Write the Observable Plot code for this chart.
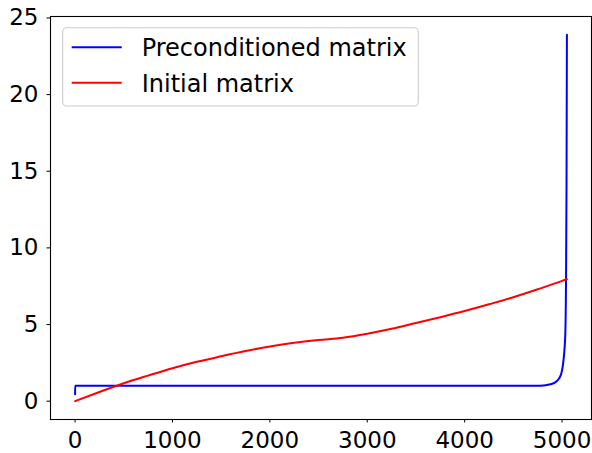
<!DOCTYPE html>
<html><head><meta charset="utf-8">
<script src="https://cdn.jsdelivr.net/npm/d3@7"></script>
<script src="https://cdn.jsdelivr.net/npm/@observablehq/plot@0.6"></script>
<style>
body{margin:0;background:#fff}
#wrap{position:relative;width:592px;height:453px}
#wrap svg{display:block}
#legend{position:absolute;left:0;top:0}
</style>
</head><body><div id="wrap"></div>
<script>
const seriesNames = ["Preconditioned matrix", "Initial matrix"];
const seriesColors = ["#0000ff", "#ff0000"];

const precondX = [0, 1, 4600, 4780, 4880, 4948, 4990, 5010, 5024, 5034, 5041, 5046, 5050];
const precondY = [0.45, 1.0, 1.0, 1.01, 1.1, 1.32, 1.75, 2.4, 3.3, 4.5, 8, 14, 23.9];

const initialX = [0, 250, 500, 750, 1000, 1250, 1500, 1750, 2000, 2250, 2500, 2750, 3000, 3250, 3500, 3750, 4000, 4250, 4500, 4750, 5000, 5050];
const initialY = [0, 0.6, 1.17, 1.67, 2.15, 2.57, 2.93, 3.27, 3.57, 3.81, 3.99, 4.14, 4.40, 4.72, 5.10, 5.48, 5.88, 6.32, 6.78, 7.30, 7.85, 7.97];

const xTicks = [0, 1000, 2000, 3000, 4000, 5000];
const yTicks = [0, 5, 10, 15, 20, 25];

const rows = [
  ...precondX.map((x, i) => ({series: seriesNames[0], x, y: precondY[i]})),
  ...initialX.map((x, i) => ({series: seriesNames[1], x, y: initialY[i]}))
];

const xMax = d3.max(rows, d => d.x), yMax = d3.max(rows, d => d.y);
const xPad = 0.05 * xMax, yPad = 0.05 * yMax;

const chart = Plot.plot({
  width: 592,
  height: 453,
  marginLeft: 50,
  marginRight: 1,
  marginTop: 16,
  marginBottom: 34,
  style: {fontFamily: "DejaVu Sans", fontSize: "23px", color: "black", background: "white"},
  x: {domain: [-xPad, xMax + xPad], ticks: xTicks, tickFormat: d => String(d)},
  y: {domain: [-yPad, yMax + yPad], ticks: yTicks, tickFormat: d => String(d)},
  color: {domain: seriesNames, range: seriesColors},
  marks: [
    Plot.line(rows, {x: "x", y: "y", z: "series", stroke: "series", strokeWidth: 2, curve: "monotone-x"}),
    Plot.frame({stroke: "black", strokeWidth: 1.1}),
    Plot.axisX({ticks: xTicks, tickSize: 3.5, tickPadding: 9, label: null, tickFormat: d => String(d)}),
    Plot.axisY({ticks: yTicks, tickSize: 3.5, tickPadding: 8.5, label: null, tickFormat: d => String(d)})
  ]
});
document.getElementById("wrap").appendChild(chart);

// legend overlay
const leg = d3.select("#wrap").append("svg").attr("id", "legend")
  .attr("width", 592).attr("height", 453)
  .style("font-family", "DejaVu Sans").style("font-size", "24px");
leg.append("rect")
  .attr("x", 62.7).attr("y", 27.7).attr("width", 355.6).attr("height", 78.3)
  .attr("rx", 4).attr("fill", "white").attr("fill-opacity", 0.8)
  .attr("stroke", "#cccccc").attr("stroke-width", 1.1);
seriesNames.forEach((name, i) => {
  const cy = 47.3 + i * 35.4;
  leg.append("line").attr("x1", 71.7).attr("x2", 121.7).attr("y1", cy).attr("y2", cy)
    .attr("stroke", seriesColors[i]).attr("stroke-width", 2);
  leg.append("text").attr("x", 141.7).attr("y", cy + 9).attr("fill", "black").text(name);
});
</script>
</body></html>
